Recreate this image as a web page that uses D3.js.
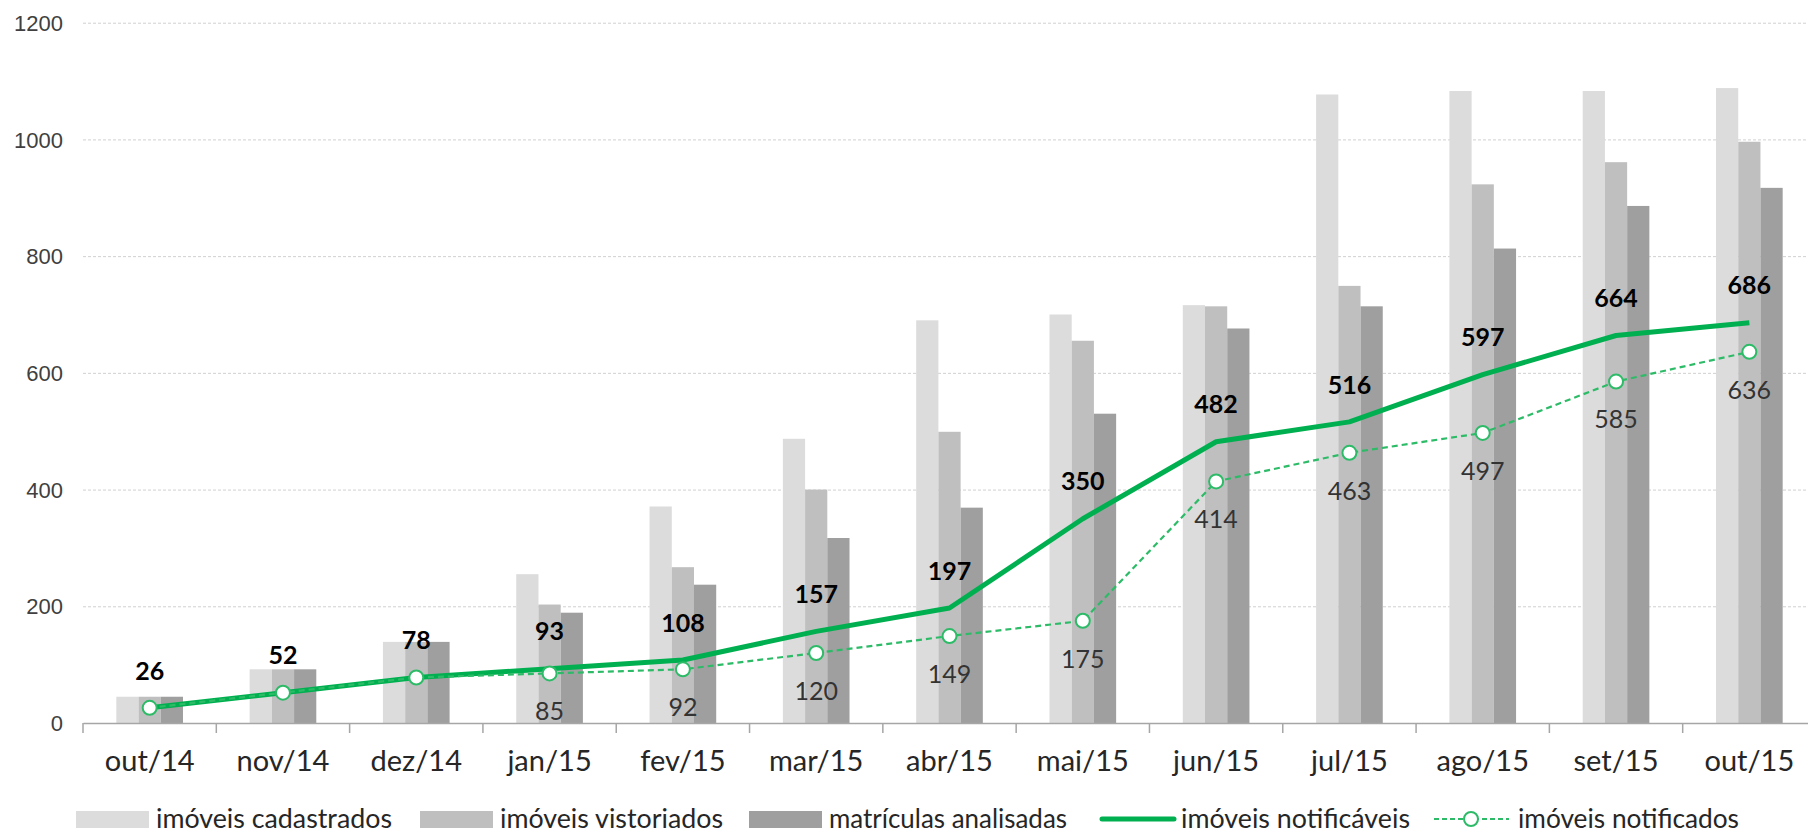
<!DOCTYPE html>
<html>
<head>
<meta charset="utf-8">
<script src="https://cdn.jsdelivr.net/npm/d3@7"></script>
<style>
  body { margin: 0; background: #fff; }
  svg { display: block; }
  .ytick text { font-family: "Liberation Sans", Arial, sans-serif; font-size: 22px; fill: #404040; }
  .xlab { font-family: Lato, sans-serif; font-size: 29px; fill: #262626; }
  .leg { font-family: Lato, sans-serif; font-size: 26px; fill: #262626; }
  .lblBold { font-family: Lato, sans-serif; font-size: 25px; font-weight: bold; fill: #000; }
  .lbl { font-family: Lato, sans-serif; font-size: 25px; fill: #333; }
</style>
</head>
<body>
<div id="chart"></div>
<script>
// months on the x axis
var months = ["out/14","nov/14","dez/14","jan/15","fev/15","mar/15","abr/15",
              "mai/15","jun/15","jul/15","ago/15","set/15","out/15"];
// bar series
var cadastrados = [45, 92, 139, 255, 371, 487, 690, 700, 716, 1077, 1083, 1083, 1088];
var vistoriados = [45, 92, 139, 203, 267, 400, 499, 655, 714, 749, 923, 961, 996];
var analisadas  = [45, 92, 139, 189, 237, 317, 369, 530, 676, 714, 813, 886, 917];
// line series
var notificaveis = [26, 52, 78, 93, 108, 157, 197, 350, 482, 516, 597, 664, 686];
var notificados  = [26, 52, 78, 85, 92, 120, 149, 175, 414, 463, 497, 585, 636];
var yTicks = [0, 200, 400, 600, 800, 1000, 1200];

var W = 1808, H = 836;
var green = "#00b050", green2 = "#2dbb68";
var barColors = ["#dcdcdc", "#bfbfbf", "#9f9f9f"];

var svg = d3.select("#chart").append("svg").attr("width", W).attr("height", H);

var x = d3.scaleBand().domain(months).range([83, 1816]).padding(0);
var y = d3.scaleLinear().domain([0, 1200]).range([723, 22.7]);
var xs = d3.scaleBand().domain([0, 1, 2]).range([0, x.bandwidth() * 0.5]);
var cx = function (i) { return x(months[i]) + x.bandwidth() / 2; };

// gridlines + y labels
var yAxis = d3.axisLeft(y).tickValues(yTicks).tickFormat(d3.format("d"))
  .tickSize(-(W - 83)).tickPadding(20);
var ga = svg.append("g").attr("class", "ytick").attr("transform", "translate(83,0)").call(yAxis);
ga.select(".domain").remove();
ga.selectAll(".tick line")
  .attr("stroke", "#d0d0d0").attr("stroke-width", 1).attr("stroke-dasharray", "3,2");
ga.selectAll(".tick text").attr("dy", "0.35em");

// bars
var series = [cadastrados, vistoriados, analisadas];
series.forEach(function (s, k) {
  svg.append("g").selectAll("rect").data(s).enter().append("rect")
    .attr("x", function (d, i) { return x(months[i]) + x.bandwidth() * 0.25 + xs(k); })
    .attr("width", xs.bandwidth())
    .attr("y", function (d) { return y(d); })
    .attr("height", function (d) { return y(0) - y(d); })
    .attr("fill", barColors[k]);
});

// x axis
var xAxis = d3.axisBottom(x).tickSize(0).tickFormat("");
var gx = svg.append("g").attr("transform", "translate(0," + y(0) + ")").call(xAxis);
gx.select(".domain").attr("stroke", "#a6a6a6").attr("stroke-width", 1.5);
gx.selectAll(".tick").remove();
svg.append("g").selectAll("line").data(months).enter().append("line")
  .attr("x1", function (d) { return x(d); }).attr("x2", function (d) { return x(d); })
  .attr("y1", y(0)).attr("y2", y(0) + 10)
  .attr("stroke", "#a6a6a6").attr("stroke-width", 1.5);
svg.append("g").selectAll("text").data(months).enter().append("text")
  .attr("class", "xlab").attr("text-anchor", "middle")
  .attr("x", function (d, i) { return cx(i); }).attr("y", 771)
  .text(function (d) { return d; });

// lines
var line = d3.line().x(function (d, i) { return cx(i); }).y(function (d) { return y(d); });
svg.append("path").datum(notificaveis).attr("d", line)
  .attr("fill", "none").attr("stroke", green).attr("stroke-width", 5)
  .attr("stroke-linejoin", "round");
svg.append("path").datum(notificados).attr("d", line)
  .attr("fill", "none").attr("stroke", green2).attr("stroke-width", 2.2)
  .attr("stroke-dasharray", "6,4");
svg.append("g").selectAll("circle").data(notificados).enter().append("circle")
  .attr("cx", function (d, i) { return cx(i); }).attr("cy", function (d) { return y(d); })
  .attr("r", 7).attr("fill", "#fff").attr("stroke", green2).attr("stroke-width", 2);

// data labels
svg.append("g").selectAll("text").data(notificaveis).enter().append("text")
  .attr("class", "lblBold").attr("text-anchor", "middle")
  .attr("x", function (d, i) { return cx(i); })
  .attr("y", function (d) { return y(d) - 37; }).attr("dy", "0.35em")
  .text(function (d) { return d; });
svg.append("g").selectAll("text").data(notificados.slice(3)).enter().append("text")
  .attr("class", "lbl").attr("text-anchor", "middle")
  .attr("x", function (d, i) { return cx(i + 3); })
  .attr("y", function (d) { return y(d) + 38; }).attr("dy", "0.35em")
  .text(function (d) { return d; });

// legend
var legY = 819;
var lg = svg.append("g");
function legText(t, x0, w) {
  lg.append("text").attr("class", "leg").attr("x", x0).attr("y", legY).attr("dy", "0.35em")
    .attr("textLength", w).attr("lengthAdjust", "spacingAndGlyphs").text(t);
}
var legBars = [["imóveis cadastrados", 76, 236], ["imóveis vistoriados", 420, 223], ["matrículas analisadas", 749, 238]];
legBars.forEach(function (l, k) {
  lg.append("rect").attr("x", l[1]).attr("y", legY - 8).attr("width", 73).attr("height", 17)
    .attr("fill", barColors[k]);
  legText(l[0], l[1] + 80, l[2]);
});
lg.append("line").attr("x1", 1102).attr("x2", 1174).attr("y1", legY).attr("y2", legY)
  .attr("stroke", green).attr("stroke-width", 5).attr("stroke-linecap", "round");
legText("imóveis notificáveis", 1181, 229);
lg.append("line").attr("x1", 1434).attr("x2", 1509).attr("y1", legY).attr("y2", legY)
  .attr("stroke", green2).attr("stroke-width", 2).attr("stroke-dasharray", "5,3");
lg.append("circle").attr("cx", 1471).attr("cy", legY).attr("r", 7)
  .attr("fill", "#fff").attr("stroke", green2).attr("stroke-width", 2);
legText("imóveis notificados", 1518, 221);
</script>
</body>
</html>
